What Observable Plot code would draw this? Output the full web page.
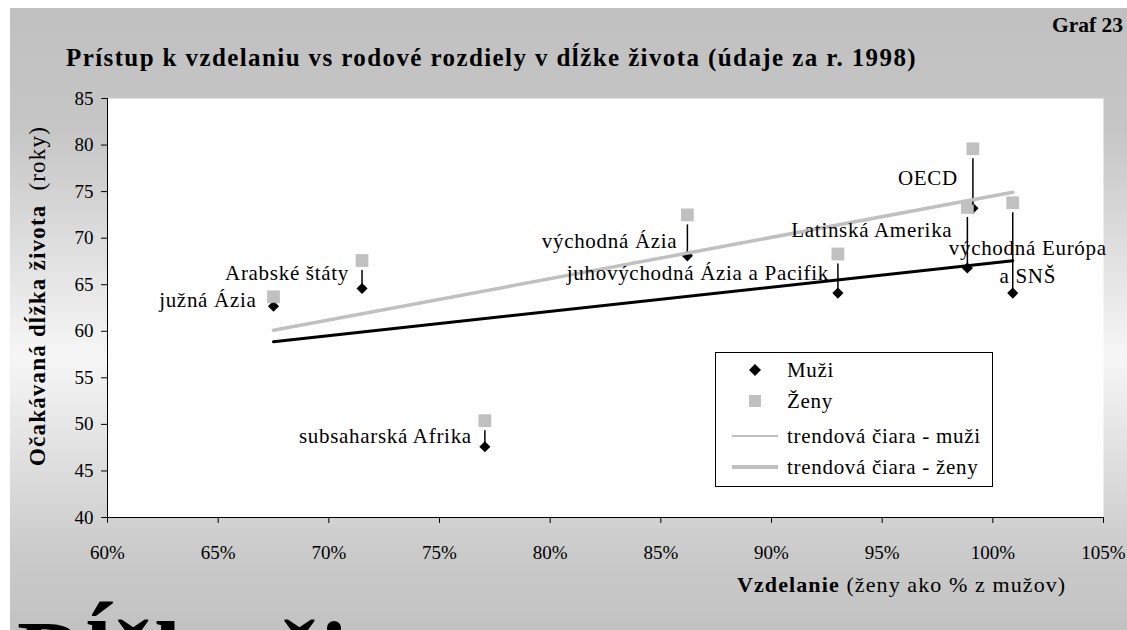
<!DOCTYPE html>
<html><head><meta charset="utf-8">
<script src="https://cdn.jsdelivr.net/npm/d3@7"></script>
<script src="https://cdn.jsdelivr.net/npm/@observablehq/plot@0.6"></script>
<style>
body{margin:0;background:#fff;}
#wrap{position:relative;width:1127px;height:630px;overflow:hidden;background:#fff;font-family:"Liberation Serif","Times New Roman";color:#000;}
#panel{position:absolute;left:10px;top:8px;right:0;bottom:0;background:linear-gradient(to bottom,#c0c0c0 0%,#c6c6c6 20%,#f6f6f6 56%,#cacaca 88%,#c2c2c2 100%);}
#chart{position:absolute;left:0;top:0;}
#chart g[aria-label="text"] text{letter-spacing:0.7px;}
.t{position:absolute;white-space:nowrap;}
#legend{position:absolute;left:715px;top:352px;width:276px;height:133px;background:#fff;border:1px solid #000;font-size:21px;letter-spacing:0.7px;}
#legend .row{position:absolute;left:0;height:24px;line-height:24px;}
#legend svg{position:absolute;left:14px;top:0;}
#legend span{position:absolute;left:71px;top:0;white-space:nowrap;}
</style></head><body>
<div id="wrap">
 <div id="panel"></div>
 <div id="chart"></div>
 <div class="t" style="left:66px;top:44px;font-size:25px;font-weight:bold;line-height:28px;letter-spacing:1.4px">Prístup k vzdelaniu vs rodové rozdiely v dĺžke života (údaje za r. 1998)</div>
 <div class="t" style="right:4px;top:13px;font-size:21.5px;font-weight:bold;line-height:24px">Graf 23</div>
 <div class="t" style="left:38px;top:296px;font-size:23px;line-height:26px;letter-spacing:1.2px;transform:translate(-50%,-50%) rotate(-90deg)"><b>Očakávaná dĺžka života</b>&nbsp; (roky)</div>
 <div class="t" style="left:737px;top:572px;font-size:22px;line-height:26px;letter-spacing:1.1px"><b>Vzdelanie</b> (ženy ako % z mužov)</div>
 <div id="legend"></div>
 <div class="t" style="left:17px;top:608px;font-size:95px;font-weight:bold;line-height:1">Dĺžka života</div>
</div>
<script>
// ---- data ----
const regions = ["južná Ázia", "Arabské štáty", "subsaharská Afrika", "východná Ázia",
  "juhovýchodná Ázia a Pacifik", "Latinská Amerika", "OECD", "východná Európa\na SNŠ"];
const education = [67.5, 71.5, 77.05, 86.2, 93.0, 98.85, 99.1, 100.9];   // ženy ako % z mužov
const lifeMen   = [62.7, 64.6, 47.6, 68.1, 64.1, 66.8, 73.2, 64.1];
const lifeWomen = [63.7, 67.6, 50.4, 72.5, 68.3, 73.3, 79.6, 73.8];
const xTicks = [60, 65, 70, 75, 80, 85, 90, 95, 100, 105];
const yTicks = [40, 45, 50, 55, 60, 65, 70, 75, 80, 85];
const legendLabels = ["Muži", "Ženy", "trendová čiara - muži", "trendová čiara - ženy"];

// label placement (pixel offsets relative to the women's marker)
const labelPlacement = {
  "južná Ázia": {dx: -17, dy: 1, anchor: "end"},
  "Arabské štáty": {dx: -13, dy: 11, anchor: "end"},
  "subsaharská Afrika": {dx: -13, dy: 13, anchor: "end"},
  "východná Ázia": {dx: -10, dy: 24, anchor: "end"},
  "juhovýchodná Ázia a Pacifik": {dx: -9, dy: 17, anchor: "end"},
  "Latinská Amerika": {dx: -15, dy: 21, anchor: "end"},
  "OECD": {dx: -15, dy: 27, anchor: "end"},
  "východná Európa\na SNŠ": {dx: 15, dy: 57, anchor: "middle"}
};

const idx = d3.range(regions.length);
const GRAY = "#c0c0c0";
const FONT = "'Liberation Serif','Times New Roman'";

const labelMarks = idx.map(i => {
  const p = labelPlacement[regions[i]];
  return Plot.text([i], {
    x: j => education[j], y: j => lifeWomen[j], text: j => regions[j],
    dx: p.dx, dy: p.dy, textAnchor: p.anchor, lineAnchor: "middle",
    lineHeight: 1.33, fontSize: 21, fill: "black", fontFamily: FONT
  });
});

const chart = Plot.plot({
  width: 1127, height: 630,
  marginLeft: 107, marginRight: 24, marginTop: 98, marginBottom: 113,
  style: {background: "transparent", fontFamily: FONT, fontSize: "19px", color: "black", overflow: "visible"},
  x: {domain: [60, 105]},
  y: {domain: [40, 85]},
  marks: [
    Plot.frame({fill: "white", stroke: null}),
    Plot.axisY({ticks: yTicks, tickSize: 6, tickPadding: 8, fontSize: 19, fontFamily: FONT, label: null, stroke: "black"}),
    Plot.axisX({ticks: xTicks, tickSize: 6, tickPadding: 22, fontSize: 19, fontFamily: FONT, label: null, tickFormat: d => d + "%", stroke: "black"}),
    Plot.ruleX([60], {stroke: "black"}),
    Plot.ruleY([40], {stroke: "black"}),
    Plot.dot(idx, {x: i => education[i], y: i => lifeMen[i], symbol: "diamond2", r: 5, fill: "black", stroke: null}),
    Plot.dot(idx, {x: i => education[i], y: i => lifeWomen[i], symbol: "square", r: 7.2, fill: GRAY, stroke: null}),
    Plot.ruleX(idx, {x: i => education[i], y1: i => lifeWomen[i], y2: i => lifeMen[i], stroke: "black", strokeWidth: 1.5, insetTop: 10, insetBottom: 3}),
    Plot.linearRegressionY(idx, {x: i => education[i], y: i => lifeWomen[i], stroke: GRAY, strokeWidth: 3.5, ci: 0}),
    Plot.linearRegressionY(idx, {x: i => education[i], y: i => lifeMen[i], stroke: "black", strokeWidth: 3, ci: 0}),
    ...labelMarks
  ]
});
document.getElementById("chart").appendChild(chart);

// ---- legend ----
const rowY = [5, 36, 71, 102];
const legendSymbols = [
  `<svg width="50" height="24"><path d="M25,6 L31,12 L25,18 L19,12 Z" fill="black"/></svg>`,
  `<svg width="50" height="24"><rect x="19" y="6" width="12" height="12" fill="${GRAY}"/></svg>`,
  `<svg width="50" height="24"><line x1="2" x2="48" y1="12" y2="12" stroke="${GRAY}" stroke-width="2"/></svg>`,
  `<svg width="50" height="24"><line x1="2" x2="48" y1="12" y2="12" stroke="${GRAY}" stroke-width="4"/></svg>`
];
document.getElementById("legend").innerHTML = legendLabels.map((l, k) =>
  `<div class="row" style="top:${rowY[k]}px">${legendSymbols[k]}<span>${l}</span></div>`).join("");
</script>
</body></html>
